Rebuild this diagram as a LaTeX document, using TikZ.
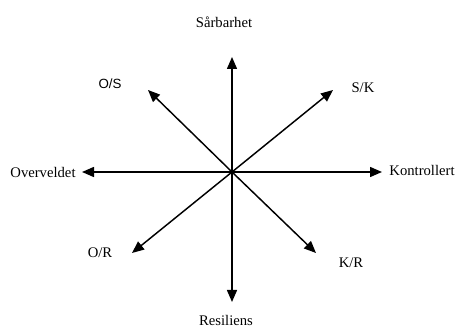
\documentclass[tikz,border=0pt]{standalone}
\usepackage{fontspec}
\setmainfont{Liberation Serif}
\newfontfamily\sansfont{Liberation Sans}
\usetikzlibrary{arrows.meta,positioning}

\begin{document}
\begin{tikzpicture}[
    x=0.75pt, y=-0.75pt,
    axislabel/.style={font=\fontsize{11}{13}\selectfont, inner sep=0pt},
    arrow/.style={-{Triangle[length=9pt,width=7.5pt]}, line width=1.1pt}
]
    \useasboundingbox (0,0) rectangle (457,327);
    \coordinate (origo) at (232,172);

    \coordinate (up) at (232,57);
    \coordinate (down) at (232,302);
    \coordinate (left) at (82,172);
    \coordinate (right) at (382,172);
    \coordinate (ne) at (333,90);
    \coordinate (nw) at (148,90);
    \coordinate (sw) at (132,253);
    \coordinate (se) at (316,253);

    \node[axislabel] (sarbarhet) at (224,22) {Sårbarhet};
    \node[axislabel] (resiliens) at (226,320) {Resiliens};
    \node[axislabel] (overveldet) at (43,172) {Overveldet};
    \node[axislabel] (kontrollert) at (422,170) {Kontrollert};
    \node[axislabel, font=\sansfont\fontsize{10}{12}\selectfont] (os) at (110,84) {O/S};
    \node[axislabel] (sk) at (363,88) {S/K};
    \node[axislabel] (or) at (100,253) {O/R};
    \node[axislabel] (kr) at (351,263) {K/R};

    \draw[arrow] (origo) -- (up);
    \draw[arrow] (origo) -- (down);
    \draw[arrow] (origo) -- (left);
    \draw[arrow] (origo) -- (right);
    \draw[arrow] (origo) -- (ne);
    \draw[arrow] (origo) -- (nw);
    \draw[arrow] (origo) -- (sw);
    \draw[arrow] (origo) -- (se);
\end{tikzpicture}
\end{document}
